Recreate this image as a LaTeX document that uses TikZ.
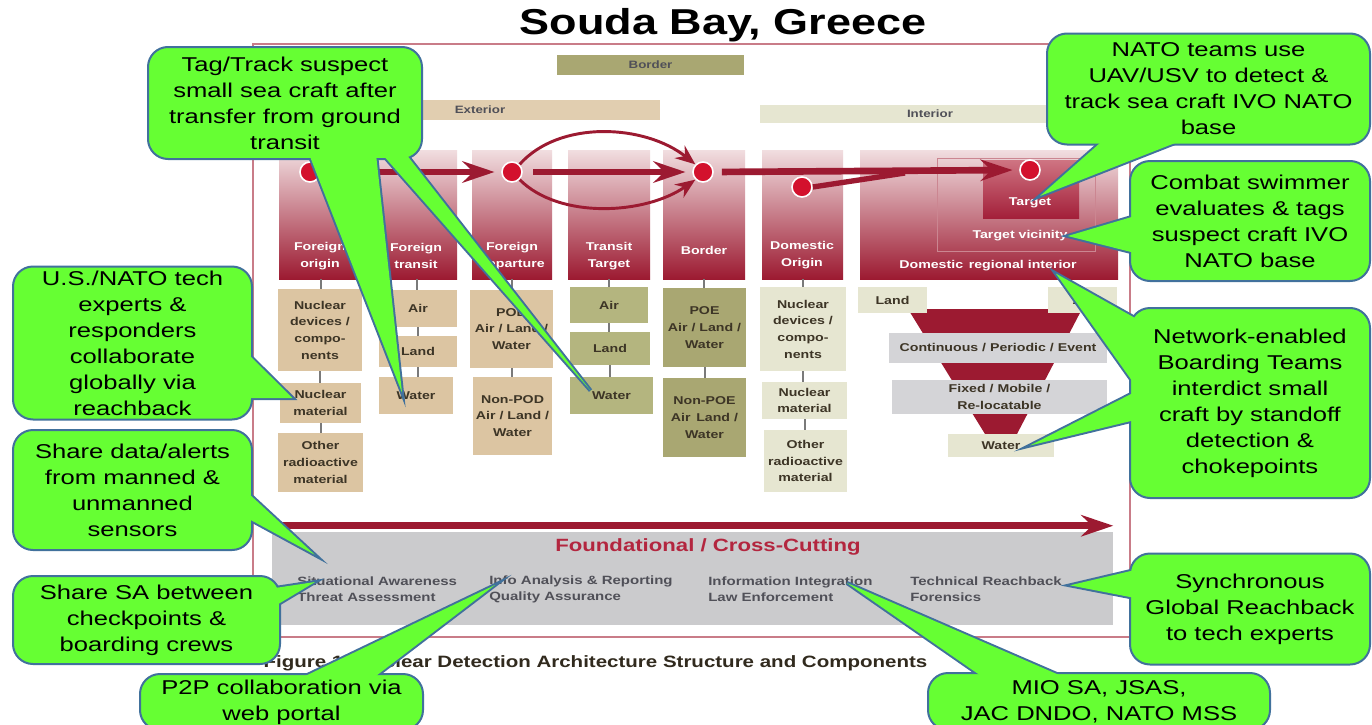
\documentclass[tikz,border=0pt]{standalone}
\usepackage{fontspec}
\setmainfont{Liberation Sans}[FakeStretch=1.25]
\newfontfamily\callfont{Liberation Sans}[FakeStretch=1.28]
\usetikzlibrary{arrows.meta,calc}
\pgfdeclarelayer{diagram}
\pgfdeclarelayer{tails}
\pgfsetlayers{diagram,tails,main}
\definecolor{callgreen}{HTML}{66FF33}
\definecolor{callblue}{HTML}{41719C}
\definecolor{coltop}{HTML}{F1DEE0}
\definecolor{colbot}{HTML}{9C1A31}
\definecolor{tgtop}{HTML}{CF7482}
\definecolor{tgbot}{HTML}{A3203A}
\definecolor{dotred}{HTML}{D3112D}
\definecolor{framered}{HTML}{C97C88}
\definecolor{tanc}{HTML}{DCC5A2}
\definecolor{olivec}{HTML}{B4B57F}
\definecolor{oliveD}{HTML}{A9A772}
\definecolor{palec}{HTML}{E6E6D1}
\definecolor{bandgrey}{HTML}{D4D4D7}
\definecolor{foundgrey}{HTML}{CBCBCD}
\definecolor{stemgrey}{HTML}{7A7A7A}
\definecolor{ink}{HTML}{3D3526}
\definecolor{redtext}{HTML}{B3263F}
\definecolor{greytext}{HTML}{505058}
\tikzset{boxsize/.style 2 args={minimum width=#1*0.75pt, minimum height=#2*0.75pt}}
\newcommand{\calltail}[3]{%
  \begin{pgfonlayer}{tails}\draw[tailline] #1 -- #2 -- #3;\end{pgfonlayer}%
  \fill[callgreen] #1 -- #2 -- #3 -- cycle;}

\begin{document}
\begin{tikzpicture}[x=0.75pt,y=-0.75pt]
\tikzstyle{barbox}=[inner sep=0pt, text=greytext, font=\fontsize{8}{10}\selectfont\bfseries]
\tikzstyle{stagecol}=[inner sep=0pt, top color=coltop, bottom color=colbot]
\tikzstyle{stagelab}=[inner sep=0pt, align=center, text=white, font=\fontsize{8.5}{12.5}\selectfont\bfseries]
\tikzstyle{itembox}=[inner sep=0pt, align=center, text=ink, font=\fontsize{8.5}{12.5}\selectfont\bfseries]
\tikzstyle{grouptext}=[inner sep=0pt, anchor=west, align=left, text=greytext, font=\fontsize{9}{12}\selectfont\bfseries]
\tikzstyle{stagedot}=[circle, inner sep=0pt, fill=dotred, draw=white, line width=1.2pt, minimum size=15pt]
\tikzstyle{flowarrow}=[draw=colbot, line width=5pt, -{Stealth[length=24pt,width=16pt,inset=8pt]}]
\tikzstyle{looparrow}=[draw=colbot, line width=2.2pt, -{Stealth[length=15pt,width=12pt,inset=5pt]}]
\tikzstyle{stemline}=[draw=stemgrey, line width=1.5pt]
\tikzstyle{callout}=[inner sep=0pt, fill=callgreen, draw=callblue, line width=1.5pt, rounded corners=15pt, align=center, font={\callfont\fontsize{15}{19.5}\selectfont}]
\tikzstyle{tailline}=[draw=callblue, line width=3pt]
\useasboundingbox (0,0) rectangle (1372,725);

\begin{pgfonlayer}{diagram}
\fill[white] (0,0) rectangle (1372,725);
\node[font=\fontsize{27}{30}\selectfont\bfseries] (title) at (723,25) {Souda Bay, Greece};
\draw[framered, line width=1.2pt] (253,44) rectangle (1130,637);
\node[barbox, fill=oliveD, boxsize={187}{20}] (borderbar) at (650.5,65) {Border};
\node[barbox, fill=tanc!85!white, boxsize={360}{20}] (exterior) at (480,110) {Exterior};
\node[barbox, fill=palec, boxsize={340}{18}] (interior) at (930,114) {Interior};

\node[stagecol, boxsize={84}{129}] (fo) at (321,214.5) {};
\node[stagecol, boxsize={81}{129}] (ft) at (416.5,214.5) {};
\node[stagecol, boxsize={80}{129}] (fd) at (512,214.5) {};
\node[stagecol, boxsize={82}{129}] (tt) at (609,214.5) {};
\node[stagecol, boxsize={82}{129}] (bd) at (704,214.5) {};
\node[stagecol, boxsize={81}{129}] (dm) at (802.5,214.5) {};
\node[stagecol, boxsize={258}{129}] (dri) at (989,214.5) {};
\node[inner sep=0pt, draw=coltop!55!colbot, line width=0.6pt, boxsize={158}{93}] (tv) at (1016,204.5) {};
\node[inner sep=0pt, top color=tgtop, bottom color=tgbot, boxsize={96}{58}] (tg) at (1031,189) {};

\node[stagelab] (folab) at (320,256) {Foreign\\origin};
\node[stagelab] (ftlab) at (416,256) {Foreign\\transit};
\node[stagelab] (fdlab) at (512,256) {Foreign\\departure};
\node[stagelab] (ttlab) at (609,256) {Transit\\Target};
\node[stagelab] (bdlab) at (704,250) {Border};
\node[stagelab] (dmlab) at (802,255) {Domestic\\Origin};
\node[stagelab] (drilab) at (988,266) {Domestic\enspace regional interior};
\node[stagelab] (tvlab) at (1020,236) {Target vicinity};
\node[stagelab] (tglab) at (1030,203) {Target};

\node[stagedot] (d1) at (310,172) {};
\node[stagedot] (d2) at (512,172) {};
\node[stagedot] (d3) at (703,172) {};
\node[stagedot] (d4) at (802,187) {};
\node[stagedot] (d5) at (1030,170) {};
\coordinate (merge) at (905,173);
\draw[flowarrow, shorten >=5pt] (d1.east) -- (d2.west);
\draw[flowarrow, shorten <=8pt, shorten >=5pt] (d2.east) -- (d3.west);
\draw[flowarrow, shorten <=6pt, shorten >=5pt] (d3.east) -- (d5.west);
\draw[colbot, line width=4pt] (d4.east) -- (merge);
\draw[looparrow] (d2.north east) .. controls +(40,-45) and +(-50,-40) .. (d3.north west);
\draw[looparrow] (d2.south east) .. controls +(40,40) and +(-50,35) .. (d3.south west);

\node[itembox, fill=tanc, boxsize={84}{82}] (n1a) at (320,330) {Nuclear\\devices /\\compo-\\nents};
\node[itembox, fill=tanc, boxsize={81}{40}] (n1b) at (320.5,403) {Nuclear\\material};
\node[itembox, fill=tanc, boxsize={85}{59}] (n1c) at (320.5,462.5) {Other\\radioactive\\material};
\node[itembox, fill=tanc, boxsize={78}{37}] (n2a) at (418,308.5) {Air};
\node[itembox, fill=tanc, boxsize={78}{31}] (n2b) at (418,351.5) {Land};
\node[itembox, fill=tanc, boxsize={74}{37}] (n2c) at (416,395.5) {Water};
\node[itembox, fill=tanc, boxsize={83}{78}] (n3a) at (511.5,329) {POD\\Air / Land /\\Water};
\node[itembox, fill=tanc, boxsize={79}{78}] (n3b) at (512.5,416) {Non-POD\\Air / Land /\\Water};
\node[itembox, fill=olivec, boxsize={78}{36}] (n4a) at (609,305) {Air};
\node[itembox, fill=olivec, boxsize={80}{33}] (n4b) at (610,348.5) {Land};
\node[itembox, fill=olivec, boxsize={83}{37}] (n4c) at (611.5,395.5) {Water};
\node[itembox, fill=oliveD, boxsize={83}{79}] (n5a) at (704.5,327.5) {POE\\Air / Land /\\Water};
\node[itembox, fill=oliveD, boxsize={83}{79}] (n5b) at (704.5,417.5) {Non-POE\\Air\enspace Land /\\Water};
\node[itembox, fill=palec, boxsize={86}{84}] (n6a) at (803,329) {Nuclear\\devices /\\compo-\\nents};
\node[itembox, fill=palec, boxsize={85}{37}] (n6b) at (804.5,400.5) {Nuclear\\material};
\node[itembox, fill=palec, boxsize={83}{62}] (n6c) at (805.5,461) {Other\\radioactive\\material};

\fill[colbot] (908,309) -- (1082,309) -- (1017,434) -- (985,434) -- cycle;
\node[itembox, fill=palec, boxsize={69}{26}] (land7) at (892.5,300) {Land};
\node[itembox, fill=palec, boxsize={69}{26}] (air7) at (1082.5,300) {Air};
\node[itembox, fill=bandgrey, boxsize={218}{30}] (band1) at (998,348) {Continuous / Periodic / Event};
\node[itembox, fill=bandgrey, boxsize={215}{34}] (band2) at (999.5,397) {Fixed / Mobile /\\Re-locatable};
\node[itembox, fill=palec, boxsize={106}{23}] (wat7) at (1001,445.5) {Water};

\draw[stemline] (fo.south) -- (fo.south |- n1a.north);
\draw[stemline] (n1a.south) -- (n1a.south |- n1b.north);
\draw[stemline] (n1b.south) -- (n1b.south |- n1c.north);
\draw[stemline] (ft.south) -- (ft.south |- n2a.north);
\draw[stemline] (n2a.south) -- (n2a.south |- n2b.north);
\draw[stemline] (n2b.south) -- (n2b.south |- n2c.north);
\draw[stemline] (fd.south) -- (fd.south |- n3a.north);
\draw[stemline] (n3a.south) -- (n3a.south |- n3b.north);
\draw[stemline] (tt.south) -- (tt.south |- n4a.north);
\draw[stemline] (n4a.south) -- (n4a.south |- n4b.north);
\draw[stemline] (n4b.south) -- (n4b.south |- n4c.north);
\draw[stemline] (bd.south) -- (bd.south |- n5a.north);
\draw[stemline] (n5a.south) -- (n5a.south |- n5b.north);
\draw[stemline] (dm.south) -- (dm.south |- n6a.north);
\draw[stemline] (n6a.south) -- (n6a.south |- n6b.north);
\draw[stemline] (n6b.south) -- (n6b.south |- n6c.north);

\node[inner sep=0pt, fill=foundgrey, boxsize={841}{93}] (found) at (692.5,578.5) {};
\draw[flowarrow] ($(found.north west)+(6,-6)$) -- ($(found.north east)+(0,-6)$);
\node[text=redtext, font=\fontsize{13.3}{15}\selectfont\bfseries] (fctitle) at (708,547) {Foundational / Cross-Cutting};
\node[grouptext] (sit) at (297,589) {Situational Awareness\\Threat Assessment};
\node[grouptext] (info) at (489,589) {Info Analysis \& Reporting\\Quality Assurance};
\node[grouptext] (integ) at (708,589) {Information Integration\\Law Enforcement};
\node[grouptext] (tech) at (910,589) {Technical Reachback\\Forensics};
\node[anchor=east, text=ink!80!black, font=\fontsize{12.3}{14}\selectfont\bfseries] (caption) at (932,663) {Figure 1. Nuclear Detection Architecture Structure and Components};
\end{pgfonlayer}

\node[callout, boxsize={274}{112}] (tag) at (285,103) {Tag/Track suspect\\small sea craft after\\transfer from ground\\transit};
\calltail{($(tag.south west)+(162,-6)$)}{($(n2c.center)+(-14,-3)$)}{($(tag.south west)+(229,-6)$)}
\calltail{($(tag.south west)+(235,-6)$)}{($(n4c.center)+(-21,-5)$)}{($(tag.south west)+(259,-6)$)}

\node[callout, boxsize={323}{111}] (nato) at (1208.5,89) {NATO teams use\\UAV/USV to detect \&\\track sea craft IVO NATO\\base};
\calltail{($(nato.south west)+(58,-6)$)}{($(tglab.center)+(10,-7)$)}{($(nato.south west)+(138,-6)$)}

\node[callout, boxsize={240}{120}] (swim) at (1250,221) {Combat swimmer\\evaluates \& tags\\suspect craft IVO\\NATO base};
\calltail{($(swim.west)+(6,-5)$)}{(tvlab.east)}{($(swim.west)+(6,32)$)}

\node[callout, boxsize={240}{190}] (board) at (1250,403) {Network-enabled\\Boarding Teams\\interdict small\\craft by standoff\\detection \&\\chokepoints};
\calltail{($(board.west)+(6,-85)$)}{($(drilab.south east)+(-21,2)$)}{($(board.west)+(6,-18)$)}
\calltail{($(board.west)+(6,-11)$)}{($(wat7.center)+(29,0)$)}{($(board.west)+(6,17)$)}

\node[callout, boxsize={239}{153}] (usnato) at (132.5,343) {U.S./NATO tech\\experts \&\\responders\\collaborate\\globally via\\reachback};
\calltail{($(usnato.east)+(-6,10)$)}{($(n1b.center)+(-28,-5)$)}{($(usnato.east)+(-6,55)$)}

\node[callout, boxsize={239}{120}] (alerts) at (132.5,490) {Share data/alerts\\from manned \&\\unmanned\\sensors};
\calltail{($(alerts.east)+(-6,2)$)}{($(found.north west)+(43,23)$)}{($(alerts.east)+(-6,28)$)}

\node[callout, boxsize={267}{88}] (share) at (146.5,620) {Share SA between\\checkpoints \&\\boarding crews};
\calltail{($(share.east)+(-6,-32)$)}{($(sit.west)+(18,-7)$)}{($(share.east)+(-6,-14)$)}

\node[callout, boxsize={283}{56}] (p2p) at (281.5,702) {P2P collaboration via\\web portal};
\calltail{($(p2p.north west)+(160,6)$)}{($(info.west)+(6,-4)$)}{($(p2p.north west)+(233,6)$)}

\node[callout, boxsize={342}{57}] (mio) at (1099,701.5) {MIO SA, JSAS,\\JAC DNDO, NATO MSS};
\calltail{($(mio.north west)+(57,6)$)}{($(integ.west)+(139,-6)$)}{($(mio.north west)+(139,6)$)}

\node[callout, boxsize={240}{111}] (sync) at (1250,609) {Synchronous\\Global Reachback\\to tech experts};
\calltail{($(sync.west)+(6,-39)$)}{($(tech.north east)+(8,9)$)}{($(sync.west)+(6,-11)$)}
\end{tikzpicture}
\end{document}
